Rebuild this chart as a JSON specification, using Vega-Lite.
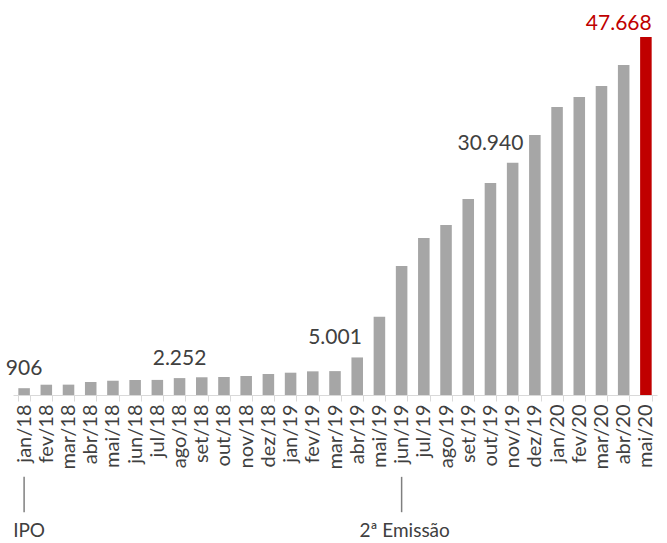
{
  "$schema": "https://vega.github.io/schema/vega-lite/v6.json",
  "padding": {"left": 3, "top": 12, "right": 5, "bottom": 0},
  "background": "white",
  "config": {"view": {"stroke": null}, "font": "Lato"},
  "datasets": {
    "bars": [
      {"month": "jan/18", "value": 906},
      {"month": "fev/18", "value": 1370},
      {"month": "mar/18", "value": 1380},
      {"month": "abr/18", "value": 1730},
      {"month": "mai/18", "value": 1900},
      {"month": "jun/18", "value": 2000},
      {"month": "jul/18", "value": 2010},
      {"month": "ago/18", "value": 2252},
      {"month": "set/18", "value": 2360},
      {"month": "out/18", "value": 2400},
      {"month": "nov/18", "value": 2530},
      {"month": "dez/18", "value": 2800},
      {"month": "jan/19", "value": 2970},
      {"month": "fev/19", "value": 3150},
      {"month": "mar/19", "value": 3180},
      {"month": "abr/19", "value": 5001},
      {"month": "mai/19", "value": 10430},
      {"month": "jun/19", "value": 17180},
      {"month": "jul/19", "value": 20900},
      {"month": "ago/19", "value": 22640},
      {"month": "set/19", "value": 26100},
      {"month": "out/19", "value": 28230},
      {"month": "nov/19", "value": 30940},
      {"month": "dez/19", "value": 34620},
      {"month": "jan/20", "value": 38350},
      {"month": "fev/20", "value": 39680},
      {"month": "mar/20", "value": 41140},
      {"month": "abr/20", "value": 43940},
      {"month": "mai/20", "value": 47668}
    ],
    "labels": [
      {"month": "jan/18", "value": 906, "text": "906"},
      {"month": "ago/18", "value": 2252, "text": "2.252"},
      {"month": "mar/19", "value": 5001, "text": "5.001"},
      {"month": "out/19", "value": 30940, "text": "30.940"},
      {"month": "mai/20", "value": 47668, "text": "47.668"}
    ],
    "events": [
      {"month": "jan/18", "event": "IPO"},
      {"month": "jun/19", "event": "2ª Emissão"}
    ]
  },
  "spacing": 80,
  "bounds": "flush",
  "vconcat": [
    {
      "width": 644,
      "height": 383,
      "layer": [
        {
          "data": {"name": "bars"},
          "mark": {"type": "bar"},
          "encoding": {
            "x": {
              "field": "month", "type": "ordinal", "sort": null,
              "scale": {"domain": ["jan/18","fev/18","mar/18","abr/18","mai/18","jun/18","jul/18","ago/18","set/18","out/18","nov/18","dez/18","jan/19","fev/19","mar/19","abr/19","mai/19","jun/19","jul/19","ago/19","set/19","out/19","nov/19","dez/19","jan/20","fev/20","mar/20","abr/20","mai/20"], "paddingInner": 0.48, "paddingOuter": 0.24},
              "axis": {
                "title": null, "labelAngle": -90, "labelAlign": "right", "labelBaseline": "middle",
                "labelFont": "Lato", "labelFontSize": 20, "labelColor": "#404040", "labelPadding": 3,
                "domainColor": "#d9d9d9", "domainWidth": 1, "tickColor": "#d9d9d9", "tickSize": 6, "tickBand": "extent"
              }
            },
            "y": {"field": "value", "type": "quantitative", "scale": {"domain": [0, 51000], "nice": false}, "axis": null},
            "color": {
              "condition": {"test": "datum.month === 'mai/20'", "value": "#c00000"},
              "value": "#a6a6a6"
            }
          }
        },
        {
          "data": {"name": "labels"},
          "transform": [{"filter": "datum.month !== 'mai/20'"}],
          "mark": {"type": "text", "align": "center", "baseline": "alphabetic", "dy": -13, "fontSize": 21, "font": "Lato", "color": "#404040"},
          "encoding": {
            "x": {"field": "month", "type": "ordinal"},
            "y": {"field": "value", "type": "quantitative"},
            "text": {"field": "text"}
          }
        },
        {
          "data": {"name": "labels"},
          "transform": [{"filter": "datum.month === 'mai/20'"}],
          "mark": {"type": "text", "align": "right", "baseline": "alphabetic", "dy": -7, "fontSize": 21, "font": "Lato", "color": "#c00000"},
          "encoding": {
            "x": {"field": "month", "type": "ordinal", "bandPosition": 1},
            "y": {"field": "value", "type": "quantitative"},
            "text": {"field": "text"}
          }
        }
      ]
    },
    {
      "width": 644,
      "height": 62,
      "data": {"name": "events"},
      "encoding": {
        "x": {
          "field": "month", "type": "ordinal", "sort": null,
          "scale": {"domain": ["jan/18","fev/18","mar/18","abr/18","mai/18","jun/18","jul/18","ago/18","set/18","out/18","nov/18","dez/18","jan/19","fev/19","mar/19","abr/19","mai/19","jun/19","jul/19","ago/19","set/19","out/19","nov/19","dez/19","jan/20","fev/20","mar/20","abr/20","mai/20"], "paddingInner": 0.48, "paddingOuter": 0.24},
          "axis": null
        }
      },
      "layer": [
        {
          "mark": {"type": "rule", "color": "#7f7f7f", "strokeWidth": 1.5},
          "encoding": {
            "y": {"datum": 0.97, "type": "quantitative", "scale": {"domain": [0, 1], "nice": false}, "axis": null},
            "y2": {"datum": 0.4}
          }
        },
        {
          "transform": [{"filter": "datum.event === 'IPO'"}],
          "mark": {"type": "text", "align": "center", "baseline": "alphabetic", "dx": 5, "fontSize": 19, "font": "Lato", "color": "#404040"},
          "encoding": {
            "y": {"datum": 0, "type": "quantitative"},
            "text": {"field": "event"}
          }
        },
        {
          "transform": [{"filter": "datum.event !== 'IPO'"}],
          "mark": {"type": "text", "align": "center", "baseline": "alphabetic", "dx": 3, "fontSize": 19, "font": "Lato", "color": "#404040"},
          "encoding": {
            "y": {"datum": 0, "type": "quantitative"},
            "text": {"field": "event"}
          }
        }
      ]
    }
  ]
}
